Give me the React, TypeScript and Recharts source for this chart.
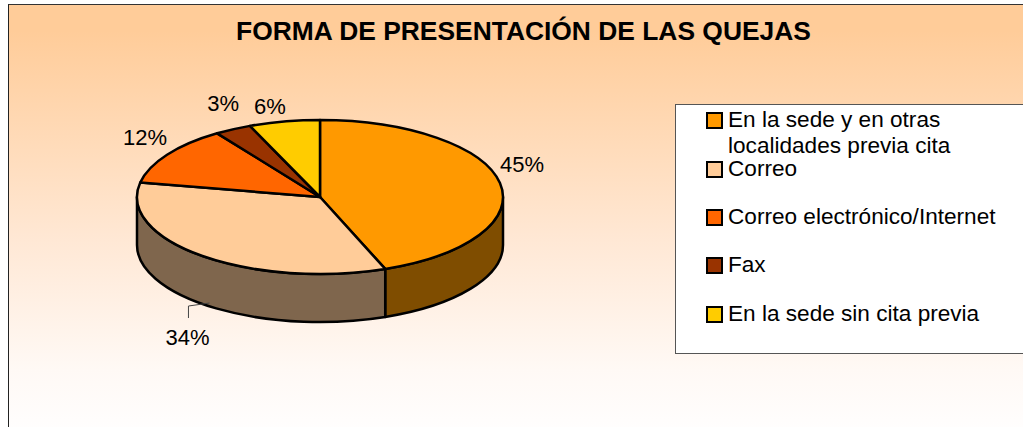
import React from "react";
import { PieChart, Pie, Legend } from "recharts";

const categories = [
  "En la sede y en otras localidades previa cita",
  "Correo",
  "Correo electrónico/Internet",
  "Fax",
  "En la sede sin cita previa",
];
const shares = [44.2, 33.8, 12.5, 3.25, 6.25];
const shareLabels = ["45%", "34%", "12%", "3%", "6%"];
const faceColors = ["#FF9900", "#FFCC99", "#FF6600", "#993300", "#FFCC00"];
const wallColors = ["#7F4D00", "#7F664D", "#7F3300", "#4D1A00", "#7F6600"];
const titleText = "FORMA DE PRESENTACIÓN DE LAS QUEJAS";

const labelNudges = [
  [22, -19],
  [-15, 81],
  [-22, -17],
  [-10, -26],
  [-14.5, -14.5],
];
const legendRowTops = [2, 51, 99, 147, 196];

const pieRows = categories.map((name, i) => ({ name, value: shares[i], fill: faceColors[i] }));

const TILT = 77 / 183;
const DEPTH = 48;
const FONT = '"Liberation Sans", Arial, sans-serif';
const rad = (d: number) => (d * Math.PI) / 180;

function SliceShape(props: any) {
  const { cx, cy, outerRadius: r, startAngle, endAngle, fill, index } = props;
  const t0 = -startAngle;
  const t1 = -endAngle;
  const rY = r * TILT;
  const px = (t: number) => cx + r * Math.cos(rad(t));
  const py = (t: number) => cy + rY * Math.sin(rad(t));
  const large = t1 - t0 > 180 ? 1 : 0;
  const top = `M${cx},${cy}L${px(t0)},${py(t0)}A${r},${rY} 0 ${large} 1 ${px(t1)},${py(t1)}Z`;
  const lo = Math.max(0, t0);
  const hi = Math.min(180, t1);
  const wall =
    hi > lo
      ? `M${px(lo)},${py(lo)}A${r},${rY} 0 0 1 ${px(hi)},${py(hi)}L${px(hi)},${py(hi) + DEPTH}A${r},${rY} 0 0 0 ${px(lo)},${py(lo) + DEPTH}Z`
      : null;
  return (
    <g>
      {wall && <path d={wall} fill={wallColors[index]} stroke="#000" strokeWidth={2.5} strokeLinejoin="round" />}
      <path d={top} fill={fill} stroke="#000" strokeWidth={2.5} strokeLinejoin="round" />
    </g>
  );
}

function SliceLabel(props: any) {
  const { cx, cy, midAngle, outerRadius: r, index } = props;
  const ax = cx + r * Math.cos(rad(-midAngle));
  const ay = cy + r * TILT * Math.sin(rad(-midAngle));
  const [dx, dy] = labelNudges[index];
  return (
    <g>
      {index === 1 && (
        <path d={`M${ax - 14},${ay + 62}V${ay + 50}L${ax + 7},${ay + 47}`} fill="none" stroke="#444" strokeWidth={1} />
      )}
      <text
        x={ax + dx}
        y={ay + dy}
        textAnchor="middle"
        dominantBaseline="central"
        fontFamily={FONT}
        fontSize={22}
        fill="#000"
      >
        {shareLabels[index]}
      </text>
    </g>
  );
}

function LegendBox(props: any) {
  const items = props.payload || [];
  return (
    <div
      style={{
        position: "relative",
        width: 360,
        height: 250,
        background: "#fff",
        border: "1px solid #555",
        boxSizing: "border-box",
        fontFamily: FONT,
        fontSize: 22.6,
        lineHeight: "26px",
        color: "#000",
      }}
    >
      {items.map((it: any, i: number) => (
        <div key={i} style={{ position: "absolute", left: 0, top: legendRowTops[i], width: 330 }}>
          <span
            style={{
              position: "absolute",
              left: 30,
              top: 5,
              width: 17,
              height: 17,
              boxSizing: "border-box",
              border: "2.5px solid #000",
              background: it.color,
            }}
          />
          <div style={{ marginLeft: 52, width: i === 0 ? 240 : 300 }}>{it.value}</div>
        </div>
      ))}
    </div>
  );
}

export default function App() {
  return (
    <div style={{ position: "absolute", left: 0, top: 0, width: 1023, height: 427, overflow: "hidden", background: "#fff" }}>
      <div
        style={{
          position: "absolute",
          left: 8,
          top: 4,
          width: 1030,
          height: 430,
          boxSizing: "border-box",
          borderLeft: "1.5px solid #222",
          borderTop: "1.5px solid #333",
          background: "linear-gradient(180deg, #FFCC99 0%, #FFCC99 6%, #FFE8D5 55%, #FFF9F5 85%, #FFFEFE 100%)",
        }}
      />
      <PieChart width={1023} height={427} margin={{ top: 0, right: 0, bottom: 0, left: 0 }} style={{ position: "absolute", left: 0, top: 0 }}>
        <text x={523.5} y={31} textAnchor="middle" dominantBaseline="central" fontFamily={FONT} fontWeight="bold" fontSize={26.4} fill="#000">
          {titleText}
        </text>
        <Pie
          data={pieRows}
          dataKey="value"
          nameKey="name"
          cx={320}
          cy={197}
          innerRadius={0}
          outerRadius={183}
          startAngle={90}
          endAngle={-270}
          stroke="#000"
          isAnimationActive={false}
          shape={SliceShape}
          label={SliceLabel}
          labelLine={false}
        />
        <Legend
          content={LegendBox}
          itemSorter={null}
          wrapperStyle={{ position: "absolute", left: 675, top: 104, width: 360, height: 250 }}
        />
      </PieChart>
    </div>
  );
}
